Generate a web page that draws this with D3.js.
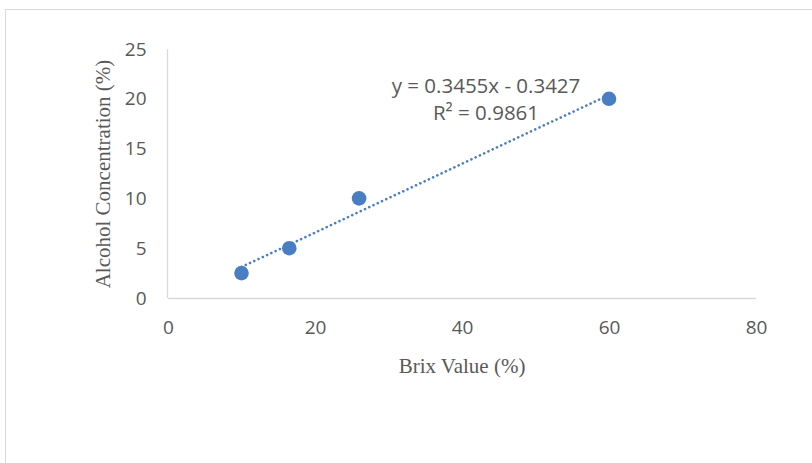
<!DOCTYPE html>
<html><head><meta charset="utf-8">
<script src="https://cdn.jsdelivr.net/npm/d3@7"></script>
<style>body{margin:0;background:#fff}</style>
</head><body>
<script>
const brix = [10, 16.5, 26, 60];
const alcohol = [2.5, 5, 10, 20];
const xTicks = [0, 20, 40, 60, 80];
const yTicks = [0, 5, 10, 15, 20, 25];
const slope = 0.3455, intercept = -0.3427;
const eqLabel = "y = 0.3455x - 0.3427";
const r2Label = "R² = 0.9861";
const xTitle = "Brix Value (%)";
const yTitle = "Alcohol Concentration (%)";

const W = 812, H = 463;
const svg = d3.select("body").append("svg").attr("width", W).attr("height", H);
svg.append("rect").attr("x", 5.5).attr("y", 9.5).attr("width", 820).attr("height", 470)
  .attr("fill", "#fff").attr("stroke", "#d9d9d9").attr("stroke-width", 1);

const x = d3.scaleLinear().domain([0, 80]).range([168, 756]);
const y = d3.scaleLinear().domain([0, 25]).range([298, 49]);
const grey = "#595959", font = "'Open Sans', sans-serif";

const xAxis = svg.append("g").attr("transform", "translate(0,298.5)")
  .call(d3.axisBottom(x).tickValues(xTicks).tickSize(0).tickPadding(22));
const yAxis = svg.append("g").attr("transform", "translate(167.5,0)")
  .call(d3.axisLeft(y).tickValues(yTicks).tickSize(0).tickPadding(21));
[xAxis, yAxis].forEach(a => {
  a.select(".domain").attr("stroke", "#d9d9d9").attr("stroke-width", 1.3);
  a.selectAll("text").attr("fill", grey).attr("font-family", font).attr("font-size", 19);
});
yAxis.select(".domain").attr("d", `M0,${y(25)}V${y(0)}`);
xAxis.select(".domain").attr("d", `M${x(0)},0H${x(80)}`);

// trendline
const tx = [d3.min(brix), d3.max(brix)];
svg.append("line")
  .attr("x1", x(tx[0])).attr("y1", y(slope * tx[0] + intercept))
  .attr("x2", x(tx[1])).attr("y2", y(slope * tx[1] + intercept))
  .attr("stroke", "#4a7ec3").attr("stroke-width", 2.6)
  .attr("stroke-dasharray", "0.1 4.6").attr("stroke-linecap", "round");

svg.selectAll("circle.pt").data(brix).enter().append("circle")
  .attr("class", "pt")
  .attr("cx", d => x(d)).attr("cy", (d, i) => y(alcohol[i])).attr("r", 7.3)
  .attr("fill", "#4a7ec3");

svg.append("text").attr("x", 486).attr("y", 93).attr("text-anchor", "middle")
  .attr("fill", grey).attr("font-family", font).attr("font-size", 20.5).text(eqLabel);
svg.append("text").attr("x", 486).attr("y", 120).attr("text-anchor", "middle")
  .attr("fill", grey).attr("font-family", font).attr("font-size", 20.5).text(r2Label);

svg.append("text").attr("x", 462).attr("y", 373).attr("text-anchor", "middle")
  .attr("fill", grey).attr("font-family", "'Liberation Serif', serif").attr("font-size", 21).text(xTitle);
svg.append("text").attr("transform", "translate(110,174) rotate(-90)").attr("text-anchor", "middle")
  .attr("fill", grey).attr("font-family", "'Liberation Serif', serif").attr("font-size", 21).text(yTitle);
</script>
</body></html>
